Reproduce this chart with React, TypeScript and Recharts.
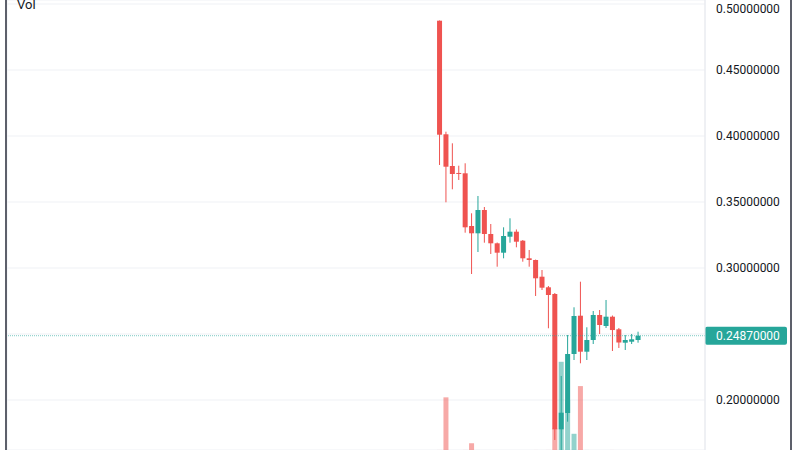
import { Bar, CartesianGrid, Cell, ComposedChart, ReferenceLine, XAxis, YAxis } from "recharts";

const UP = "#26a69a";
const DOWN = "#ef5350";

// empty bars before / after the candles
const LEAD_SLOTS = 67;
const TRAIL_SLOTS = 10;

const opens = [
  0.48735, 0.40129, 0.37727, 0.372, 0.37174, 0.33182, 0.32629, 0.34394, 0.32576, 0.31871, 0.31159,
  0.32371, 0.3275, 0.32068, 0.30735, 0.30606, 0.29341, 0.28538, 0.2803, 0.1778, 0.19015, 0.23485,
  0.26386, 0.23659, 0.24545, 0.2644, 0.25606, 0.26311, 0.25356, 0.24341, 0.24417, 0.24545,
];
const highs = [
  0.4875, 0.40326, 0.39447, 0.3775, 0.37932, 0.34144, 0.35455, 0.3462, 0.33333, 0.3193, 0.33083,
  0.33765, 0.3292, 0.3212, 0.31364, 0.3064, 0.29848, 0.28636, 0.28106, 0.2182, 0.24924, 0.27023,
  0.28962, 0.25508, 0.26742, 0.26818, 0.27576, 0.264, 0.25455, 0.24924, 0.25, 0.25174,
];
const lows = [
  0.37803, 0.34977, 0.35962, 0.36667, 0.32674, 0.29545, 0.31212, 0.31917, 0.31061, 0.30098, 0.30735,
  0.31917, 0.31568, 0.30477, 0.30098, 0.27879, 0.28333, 0.25432, 0.1697, 0.15, 0.18356, 0.2303,
  0.2278, 0.2303, 0.24242, 0.25, 0.25455, 0.23712, 0.2394, 0.23788, 0.24242, 0.24341,
];
const closes = [
  0.40098, 0.37674, 0.37121, 0.3716, 0.33083, 0.32629, 0.34394, 0.32576, 0.31871, 0.31159, 0.32424,
  0.3275, 0.31992, 0.30735, 0.30606, 0.2922, 0.28508, 0.27955, 0.1778, 0.19038, 0.23485, 0.26364,
  0.23659, 0.24545, 0.2644, 0.25682, 0.26311, 0.253, 0.24356, 0.24545, 0.24598, 0.2487,
];
const volumes = [
  90, 117000, 60, 30, 120, 15000, 70, 50, 40, 30, 60,
  40, 30, 50, 20, 70, 60, 90, 48000, 196000, 111000, 36000,
  142000, 80, 60, 40, 50, 70, 30, 20, 15, 25,
];

const LAST_PRICE = 0.2487;
const priceTicks = [0.2, 0.25, 0.3, 0.35, 0.4, 0.45, 0.5];
const timeTicks = [71, 95];
const PRICE_DOMAIN = [0.16212, 0.50303];
const VOL_MAX = 1000000;

type Row = {
  t: number;
  open?: number;
  high?: number;
  low?: number;
  close?: number;
  vol?: number;
};

const data: Row[] = [];
for (let i = 0; i < LEAD_SLOTS; i++) data.push({ t: data.length });
opens.forEach((o, i) => {
  data.push({ t: data.length, open: o, high: highs[i], low: lows[i], close: closes[i], vol: volumes[i] });
});
for (let i = 0; i < TRAIL_SLOTS; i++) data.push({ t: data.length });

function Candle(props: any) {
  const { x, y, width, height, payload } = props;
  if (!payload || payload.open == null || height == null) return <g />;
  const { open, close, high, low } = payload;
  const top = Math.min(y, y + height);
  const bottom = Math.max(y, y + height);
  const k = (bottom - top) / (high - low);
  const py = (v: number) => top + (high - v) * k;
  const color = close >= open ? UP : DOWN;
  const bodyTop = py(Math.max(open, close));
  const bodyH = Math.max(1, Math.abs(py(open) - py(close)));
  const cx = x + width / 2;
  return (
    <g>
      <line x1={cx} x2={cx} y1={top} y2={bottom} stroke={color} strokeWidth={1} />
      <rect x={x} y={bodyTop} width={width} height={bodyH} fill={color} />
    </g>
  );
}

function PriceTick(props: any) {
  const { x, y, payload } = props;
  if (Math.abs(payload.value - LAST_PRICE) < 0.01) return <g />;
  return (
    <text x={x} y={y} dy={4} fill="#131722" fontSize={12} fontFamily="Roboto, sans-serif" textAnchor="start">
      {payload.value.toFixed(8)}
    </text>
  );
}

function LastPriceLabel(props: any) {
  const { viewBox } = props;
  if (!viewBox) return <g />;
  const x = viewBox.x + viewBox.width;
  return (
    <g>
      <rect x={x} y={viewBox.y - 9} width={82} height={18} rx={2} fill={UP} />
      <text x={x + 11} y={viewBox.y + 4} fill="#ffffff" fontSize={12} fontFamily="Roboto, sans-serif">
        {LAST_PRICE.toFixed(8)}
      </text>
    </g>
  );
}

export default function App() {
  return (
    <div style={{ position: "absolute", left: 0, top: 0, width: 800, height: 450, overflow: "hidden", background: "#fff" }}>
      <ComposedChart width={800} height={450} data={data} margin={{ top: 0, right: 8, bottom: 0, left: 7 }}>
        <CartesianGrid xAxisId="candle" yAxisId="price" stroke="#eff1f5" />
        <XAxis xAxisId="vol" dataKey="t" hide />
        <XAxis
          xAxisId="candle"
          dataKey="t"
          ticks={timeTicks}
          tick={false}
          tickLine={false}
          axisLine={false}
          height={0}
        />
        <YAxis yAxisId="vol" domain={[0, VOL_MAX]} hide />
        <YAxis
          yAxisId="price"
          orientation="right"
          width={87}
          type="number"
          domain={PRICE_DOMAIN}
          allowDataOverflow
          ticks={priceTicks}
          tick={PriceTick}
          tickLine={false}
          tickSize={0}
          tickMargin={11}
          axisLine={{ stroke: "#e6e8ed" }}
        />
        <Bar xAxisId="vol" yAxisId="vol" dataKey="vol" barSize={5} isAnimationActive={false}>
          {data.map((d) => (
            <Cell
              key={d.t}
              fill={d.close != null && d.open != null && d.close >= d.open ? UP : DOWN}
              fillOpacity={0.5}
            />
          ))}
        </Bar>
        <ReferenceLine
          xAxisId="candle"
          yAxisId="price"
          y={LAST_PRICE}
          stroke={UP}
          strokeOpacity={0.6}
          strokeDasharray="1 1"
          label={LastPriceLabel}
        />
        <Bar
          xAxisId="candle"
          yAxisId="price"
          dataKey={(d: Row) => (d.open == null ? null : [d.low, d.high])}
          barSize={5}
          shape={Candle}
          isAnimationActive={false}
        />
      </ComposedChart>
      <div style={{ position: "absolute", left: 5, top: 0, width: 2, height: 450, background: "#5d606b" }} />
      <div style={{ position: "absolute", left: 790, top: 0, width: 2, height: 450, background: "#5d606b" }} />
      <div
        style={{
          position: "absolute",
          left: 17,
          top: -2,
          fontSize: 13,
          lineHeight: "13px",
          color: "#131722",
          fontFamily: "Roboto, sans-serif",
        }}
      >
        Vol
      </div>
    </div>
  );
}
